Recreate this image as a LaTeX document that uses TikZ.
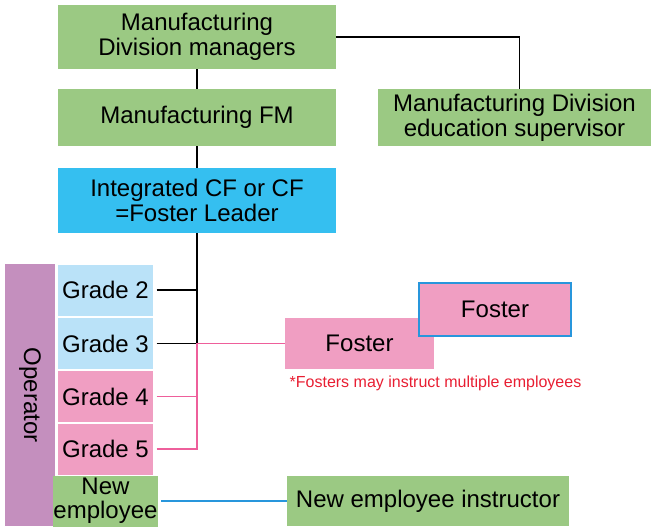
\documentclass[tikz,border=0pt]{standalone}
\usepackage{fontspec}
\setmainfont{Liberation Sans}
\definecolor{mgrgreen}{RGB}{155, 201, 131}
\definecolor{leaderblue}{RGB}{53, 191, 240}
\definecolor{gradeblue}{RGB}{186, 226, 248}
\definecolor{gradepink}{RGB}{240, 158, 194}
\definecolor{operpurple}{RGB}{196, 143, 190}
\definecolor{notered}{RGB}{232, 30, 50}
\definecolor{linkpink}{RGB}{238, 95, 155}
\definecolor{linkblue}{RGB}{40, 150, 220}
\usepackage{tikz}
\usetikzlibrary{positioning, calc}

\begin{document}
\begin{tikzpicture}[x=0.75pt, y=-0.75pt,
    box/.style={inner sep=0pt, align=center, font=\fontsize{18}{18.75}\selectfont},
    wide/.style={box, minimum width=208.5pt},
    grade/.style={box, minimum width=71.25pt, minimum height=38.25pt},
    link/.style={line width=0.8pt, shorten <=2.5pt}]
  \useasboundingbox (0,0) rectangle (651,526);

  % Management chain
  \node[wide, fill=mgrgreen, minimum height=48pt] (mgr) at (197, 37) {Manufacturing\\Division managers};
  \node[wide, fill=mgrgreen, minimum height=42.75pt] (fm) at (197, 117.5) {Manufacturing FM};
  \node[wide, fill=leaderblue, minimum height=48.75pt] (leader) at (197, 200.5) {Integrated CF or CF\\=Foster Leader};
  \node[box, fill=mgrgreen, minimum width=204.75pt, minimum height=42.75pt] (sup) at (514.5, 117.5) {Manufacturing Division\\education supervisor};

  \draw[line width=0.8pt] (mgr) -- (fm);
  \draw[line width=0.8pt] (fm) -- (leader);
  \draw[line width=0.8pt] (mgr.east) -| ([xshift=3.4pt]sup.north);

  % Operator grades
  \node[box, fill=operpurple, minimum width=196.5pt, minimum height=37.5pt, rotate=-90] (oper) at (30, 395) {Operator};
  \node[grade, fill=gradeblue] (g2) at (105.5, 290) {Grade 2};
  \node[grade, fill=gradeblue] (g3) at (105.5, 343.5) {Grade 3};
  \node[grade, fill=gradepink] (g4) at (105.5, 396.5) {Grade 4};
  \node[grade, fill=gradepink] (g5) at (105.5, 449) {Grade 5};
  \node[grade, fill=mgrgreen, font=\fontsize{18}{18}\selectfont] (newemp) at (105.5, 501) {New\\employee};

  % Fosters
  \node[box, fill=gradepink, minimum width=111.75pt, minimum height=38.25pt] (foster1) at (359.5, 343.5) {Foster};
  \node[box, fill=gradepink, draw=linkblue, line width=0.8pt, minimum width=114pt, minimum height=39.75pt] (foster2) at (495, 309.5) {Foster};
  \node[font=\fontsize{12}{14}\selectfont, text=notered] (note) at (435.5, 383) {*Fosters may instruct multiple employees};
  \node[box, fill=mgrgreen, minimum width=211.5pt, minimum height=37.5pt] (instr) at (428, 501) {New employee instructor};

  % Connectors to grades
  \coordinate (hub) at (leader.south |- g3.east);
  \draw[line width=0.8pt] (leader.south) -- (hub);
  \draw[link] (g2.east) -- (g2.east -| hub);
  \draw[link] (g3.east) -- (hub);
  \draw[link, linkpink] (g5.east) -| (hub) -- (foster1.west);
  \draw[link, linkpink] (g4.east) -- (g4.east -| hub);
  \draw[link, linkblue] (newemp.east) -- (instr.west);
\end{tikzpicture}
\end{document}
